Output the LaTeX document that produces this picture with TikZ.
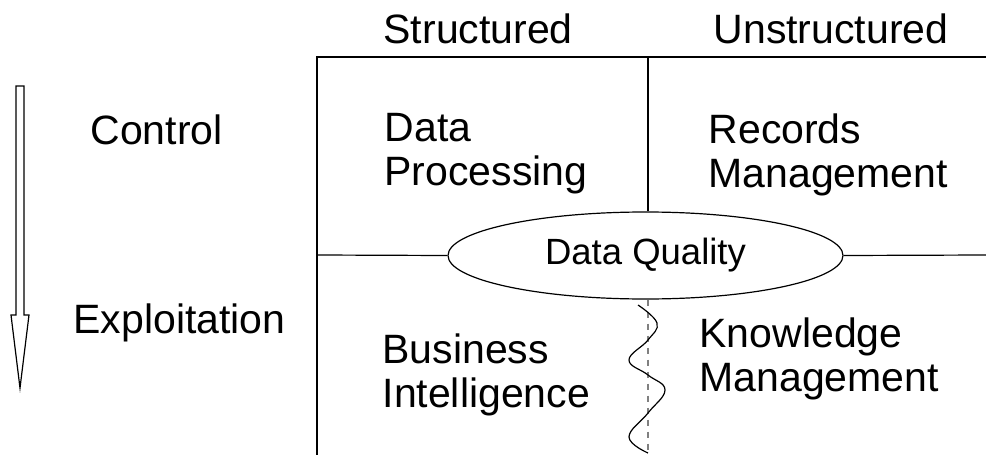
\documentclass[tikz,border=0pt]{standalone}
\usepackage{fontspec}
\setmainfont{Liberation Sans}
\usetikzlibrary{shapes.geometric}

\begin{document}
\begin{tikzpicture}[
        x=0.5pt, y=-0.5pt,
        line width=0.6pt,
        label/.style={anchor=base west, inner sep=0pt, align=left,
          font=\fontsize{20.5}{22}\selectfont},
        quality/.style={ellipse, draw, minimum width=197.5pt, minimum height=43.5pt,
          inner sep=0pt, font=\fontsize{18.25}{18.25}\selectfont},
        divide/.style={dashed, gray, line width=0.7pt}
      ]
      \useasboundingbox (0,0) rectangle (986,455);
      \coordinate (topleft) at (317,57);
      \coordinate (topright) at (986,57);
      \coordinate (bottomleft) at (317,455);
      \coordinate (midtop) at (648,57);
      \coordinate (midleft) at (317,255);
      \coordinate (midright) at (986,255);
      \coordinate (midbottom) at (648,455);
      \node[quality] (dq) at (645.5,255.5) {Data Quality};
      \node[label] (structured) at (383,43) {Structured};
      \node[label] (unstructured) at (713,43) {Unstructured};
      \node[label] (control) at (90,144) {Control};
      \node[label] (exploitation) at (73,333) {Exploitation};
      \node[label] (dp) at (384,185) {Data\\Processing};
      \node[label] (rm) at (708,187) {Records\\Management};
      \node[label] (bi) at (382,407) {Business\\Intelligence};
      \node[label] (km) at (699,391) {Knowledge\\Management};
      \draw (bottomleft) -- (topleft) -- (topright);
      \draw (midtop) -- (midtop |- dq.north);
      \draw (midleft) -- (dq.west);
      \draw (dq.east) -- (midright);
      \draw[divide] (midbottom |- dq.south) -- (midbottom);
      \draw plot[smooth, tension=0.7] coordinates {(638,305) (657,323) (648,340)
        (629,360) (648,375) (665,390) (648,413) (629,437) (648,453)};
      \draw (16,86) -- (24,86) -- (24,315) -- (29,315) -- (20,388)
        -- (11,315) -- (16,315) -- cycle;
    \end{tikzpicture}
\end{document}
